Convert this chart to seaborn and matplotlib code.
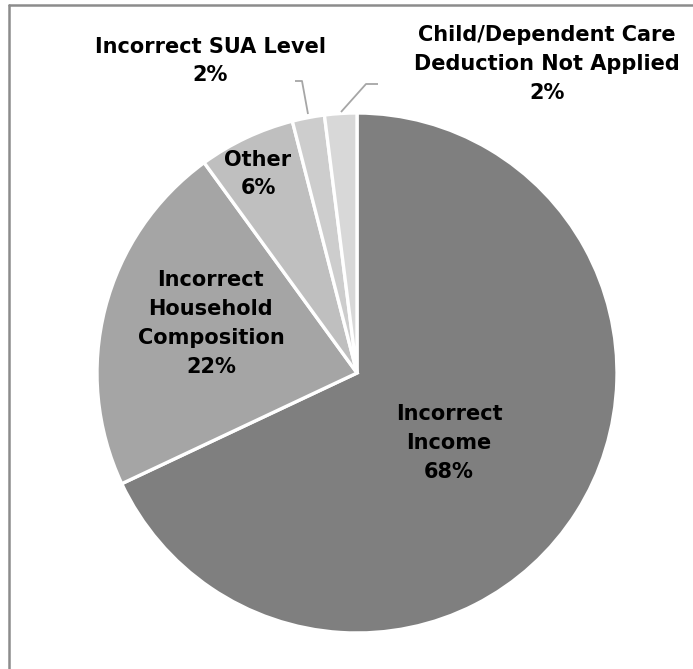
import matplotlib
matplotlib.use("Agg")
import matplotlib.pyplot as plt
from matplotlib.lines import Line2D
import seaborn as sns

# Error categories and their shares of cases (percent)
categories = [
    "Incorrect\nIncome",
    "Incorrect\nHousehold\nComposition",
    "Other",
    "Incorrect SUA Level",
    "Child/Dependent Care\nDeduction Not Applied",
]
shares = [68, 22, 6, 2, 2]
slice_colors = ["#7f7f7f", "#a5a5a5", "#bfbfbf", "#cdcdcd", "#d8d8d8"]

sns.set_theme(style="white")
plt.rcParams["font.family"] = ["DejaVu Sans"]

W, H = 693, 669
fig = plt.figure(figsize=(W / 100, H / 100), dpi=100)
fig.patch.set_facecolor("white")

cx, cy, r = 357, 373, 260
ax = fig.add_axes([(cx - r) / W, (H - cy - r) / H, 2 * r / W, 2 * r / H])

wedges, _ = ax.pie(
    shares,
    colors=slice_colors,
    startangle=90,
    counterclock=False,
    radius=1.0,
    wedgeprops=dict(edgecolor="white", linewidth=2.4),
)
ax.set_xlim(-1, 1)
ax.set_ylim(-1, 1)
ax.set_aspect("equal")
ax.axis("off")

# label anchor positions (in pie radius units)
label_pos = [(0.354, -0.27), (-0.562, 0.19), (-0.381, 0.765), (-0.565, 1.20), (0.731, 1.188)]
font_kw = dict(fontsize=15, fontweight="bold", color="black", ha="center", va="center",
               linespacing=1.55)
for name, val, (lx, ly) in zip(categories, shares, label_pos):
    ax.text(lx, ly, f"{name}\n{val}%", clip_on=False, **font_kw)

# leader lines for the two thin slices
lead_kw = dict(color="#a6a6a6", linewidth=1.3, solid_capstyle="butt")
def px(x, y):
    return ((x - cx) / r, (cy - y) / r)
sua = [px(295, 81), px(302, 81), px(308, 114)]
child = [px(341, 112), px(366, 84), px(378, 84)]
for pts in (sua, child):
    xs, ys = zip(*pts)
    ax.add_line(Line2D(xs, ys, clip_on=False, **lead_kw))

# chart frame (open on right and bottom)
frame_kw = dict(color="#8c8c8c", linewidth=1.8, transform=fig.transFigure)
fig.add_artist(Line2D([9 / W, 9 / W], [0, 1 - 5 / H], **frame_kw))
fig.add_artist(Line2D([9 / W, 1], [1 - 5 / H, 1 - 5 / H], **frame_kw))

fig.savefig("out.png", dpi=100, facecolor="white")
